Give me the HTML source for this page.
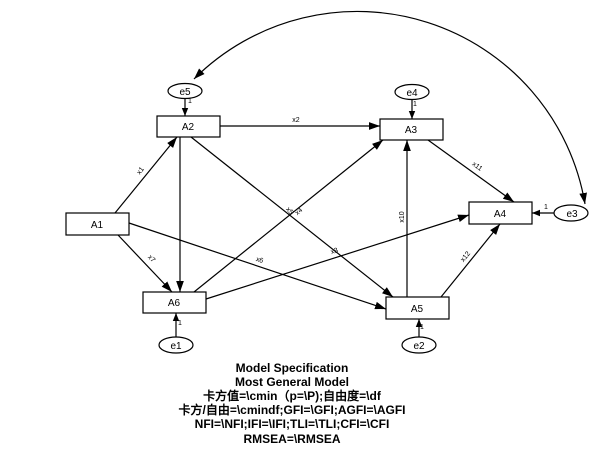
<!DOCTYPE html>
<html><head><meta charset="utf-8"><style>
body{margin:0;background:#fff;width:602px;height:455px;overflow:hidden}
svg{position:absolute;left:0;top:0}
text{font-family:"Liberation Sans",sans-serif}
</style></head><body>
<svg width="602" height="455" viewBox="0 0 602 455">
<defs><marker id="a" viewBox="0 0 10 10" refX="10" refY="5" markerWidth="8" markerHeight="8" markerUnits="userSpaceOnUse" orient="auto"><path d="M0,1 L10,5 L0,9 z" fill="#000"/></marker>
<marker id="b" viewBox="0 0 10 10" refX="10" refY="5" markerWidth="11" markerHeight="11" markerUnits="userSpaceOnUse" orient="auto-start-reverse"><path d="M0,1.5 L10,5 L0,8.5 z" fill="#000"/></marker></defs>
<g stroke="#000" stroke-width="1.2" fill="none">
<path d="M585 204 A 231 231 0 0 0 194 79" marker-start="url(#b)" marker-end="url(#b)"/>
<line x1="115" y1="213" x2="177" y2="137" marker-end="url(#b)"/>
<line x1="180" y1="137" x2="180" y2="292" marker-end="url(#b)"/>
<line x1="118" y1="235" x2="172" y2="292" marker-end="url(#b)"/>
<line x1="220" y1="126" x2="380" y2="126" marker-end="url(#b)"/>
<line x1="191" y1="137" x2="393" y2="297" marker-end="url(#b)"/>
<line x1="194" y1="292" x2="383" y2="140" marker-end="url(#b)"/>
<line x1="206" y1="299" x2="469" y2="215" marker-end="url(#b)"/>
<line x1="129" y1="223" x2="386" y2="309" marker-end="url(#b)"/>
<line x1="407" y1="297" x2="407" y2="140" marker-end="url(#b)"/>
<line x1="428" y1="140" x2="514" y2="202" marker-end="url(#b)"/>
<line x1="441" y1="297" x2="500" y2="224" marker-end="url(#b)"/>
<line x1="554" y1="213" x2="532" y2="213" marker-end="url(#a)"/>
<line x1="185" y1="98" x2="185" y2="116" marker-end="url(#a)"/>
<line x1="412" y1="99" x2="412" y2="119" marker-end="url(#a)"/>
<line x1="176" y1="337" x2="176" y2="313" marker-end="url(#a)"/>
<line x1="419" y1="337" x2="419" y2="319" marker-end="url(#a)"/>
</g>
<g stroke="#000" stroke-width="1.2" fill="#fff">
<rect x="157" y="116" width="63" height="21"/>
<rect x="66" y="213" width="63" height="22"/>
<rect x="143" y="292" width="63" height="21"/>
<rect x="380" y="119" width="63" height="21"/>
<rect x="469" y="202" width="63" height="22"/>
<rect x="386" y="297" width="63" height="22"/>
<ellipse cx="185" cy="91" rx="17" ry="7.5"/>
<ellipse cx="412" cy="92" rx="17" ry="7.5"/>
<ellipse cx="571" cy="213" rx="17" ry="8"/>
<ellipse cx="176" cy="345" rx="17" ry="8"/>
<ellipse cx="419" cy="345" rx="17" ry="8"/>
</g>
<g font-size="10" text-anchor="middle">
<text x="188" y="130">A2</text><text x="97" y="228">A1</text><text x="174" y="306">A6</text>
<text x="411" y="133">A3</text><text x="500" y="217">A4</text><text x="417" y="312">A5</text>
<text x="185" y="95">e5</text><text x="412" y="96">e4</text><text x="572" y="217">e3</text>
<text x="176" y="349">e1</text><text x="419" y="349">e2</text>
</g>
<g font-size="7" text-anchor="middle">
<text x="190" y="103">1</text><text x="415" y="106">1</text><text x="180" y="325">1</text><text x="422" y="329">1</text><text x="546" y="209">1</text>
<text x="296" y="122">x2</text>
<text transform="translate(142,172) rotate(-52)">x1</text>
<text transform="translate(150,260) rotate(47)">x7</text>
<text transform="translate(288,212) rotate(52)">x5</text>
<text transform="translate(300,213) rotate(-39)">x4</text>
<text transform="translate(259,262) rotate(18)">x6</text>
<text transform="translate(335,253) rotate(-18)">x3</text>
<text transform="translate(404,217) rotate(-90)">x10</text>
<text transform="translate(476,168) rotate(36)">x11</text>
<text transform="translate(467,258) rotate(-51)">x12</text>
</g>
<g font-size="12" font-weight="bold" text-anchor="middle" font-family="'Liberation Sans','Noto Sans CJK SC',sans-serif">
<text x="292" y="372">Model Specification</text>
<text x="292" y="386">Most General Model</text>
<text x="292" y="400">卡方值=\cmin（p=\P);自由度=\df</text>
<text x="292" y="414">卡方/自由=\cmindf;GFI=\GFI;AGFI=\AGFI</text>
<text x="292" y="428">NFI=\NFI;IFI=\IFI;TLI=\TLI;CFI=\CFI</text>
<text x="292" y="443">RMSEA=\RMSEA</text>
</g>
</svg>
</body></html>
